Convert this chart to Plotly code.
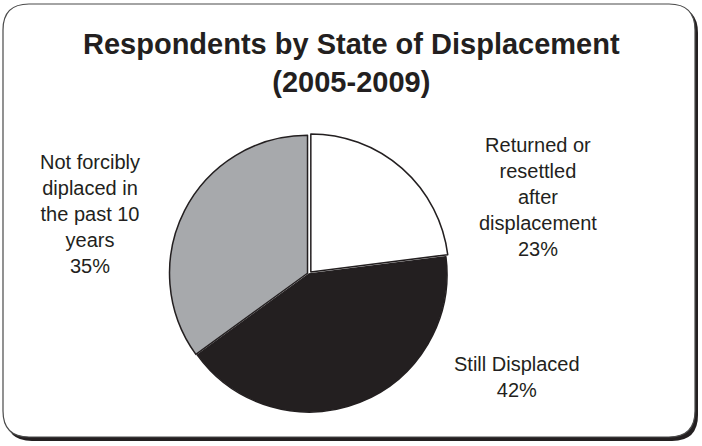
import plotly.graph_objects as go

# Survey breakdown
categories = ["Returned or<br>resettled<br>after<br>displacement",
              "Still Displaced",
              "Not forcibly<br>diplaced in<br>the past 10<br>years"]
shares = [23, 42, 35]
slice_colors = ["#ffffff", "#231f20", "#a7a9ac"]
title_lines = ["Respondents by State of Displacement", "(2005-2009)"]

W, H = 702, 446
INK = "#231f20"
FONT = "Liberation Sans, Arial, Helvetica, sans-serif"


def px(x):
    return x / W


def py(y):
    return 1 - y / H


def rounded_rect(x0, y0, x1, y1, r):
    """SVG path (paper coords) for a rounded rectangle given in pixels."""
    pts = [
        f"M {px(x0 + r)},{py(y0)}",
        f"L {px(x1 - r)},{py(y0)}",
        f"Q {px(x1)},{py(y0)} {px(x1)},{py(y0 + r)}",
        f"L {px(x1)},{py(y1 - r)}",
        f"Q {px(x1)},{py(y1)} {px(x1 - r)},{py(y1)}",
        f"L {px(x0 + r)},{py(y1)}",
        f"Q {px(x0)},{py(y1)} {px(x0)},{py(y1 - r)}",
        f"L {px(x0)},{py(y0 + r)}",
        f"Q {px(x0)},{py(y0)} {px(x0 + r)},{py(y0)}",
        "Z",
    ]
    return " ".join(pts)


pulls = [0.02, 0.0, 0.012]
maxpull = max(pulls)
cx, cy, rad = 309, 274, 138
half = rad * (1 + maxpull)

fig = go.Figure(go.Pie(
    labels=categories,
    values=shares,
    sort=False,
    direction="clockwise",
    rotation=0,
    pull=pulls,
    textinfo="none",
    hoverinfo="label+percent",
    marker=dict(colors=slice_colors, line=dict(color=INK, width=1.5)),
    domain=dict(x=[px(cx - half), px(cx + half)],
                y=[py(cy + half), py(cy - half)]),
    showlegend=False,
))

shapes = [
    # drop shadow of the frame
    dict(type="path", xref="paper", yref="paper",
         path=rounded_rect(6, 7, 698, 441, 26),
         fillcolor=INK, line=dict(width=0), layer="below"),
    # frame
    dict(type="path", xref="paper", yref="paper",
         path=rounded_rect(3, 4, 695, 437, 26),
         fillcolor="#ffffff", line=dict(color="#4a4a4a", width=1.2), layer="below"),
]

# slice labels with their percentages
total = sum(shares)
label_pos = [(538, 197), (517, 377), (90, 214)]
annotations = []
for name, val, (lx, ly) in zip(categories, shares, label_pos):
    annotations.append(dict(
        x=px(lx), y=py(ly), xref="paper", yref="paper",
        text=f"{name}<br>{round(100 * val / total)}%",
        showarrow=False, align="center", xanchor="center", yanchor="middle",
        font=dict(family=FONT, size=20, color=INK),
    ))

annotations.append(dict(
    x=px(351), y=py(63), xref="paper", yref="paper",
    text="<b>" + "<br>".join(title_lines) + "</b>",
    showarrow=False, align="center", xanchor="center", yanchor="middle",
    font=dict(family=FONT, size=29, color=INK),
))

fig.update_layout(
    width=W, height=H,
    margin=dict(l=0, r=0, t=0, b=0),
    paper_bgcolor="#ffffff",
    plot_bgcolor="#ffffff",
    shapes=shapes,
    annotations=annotations,
)

fig.write_html("out.html")
